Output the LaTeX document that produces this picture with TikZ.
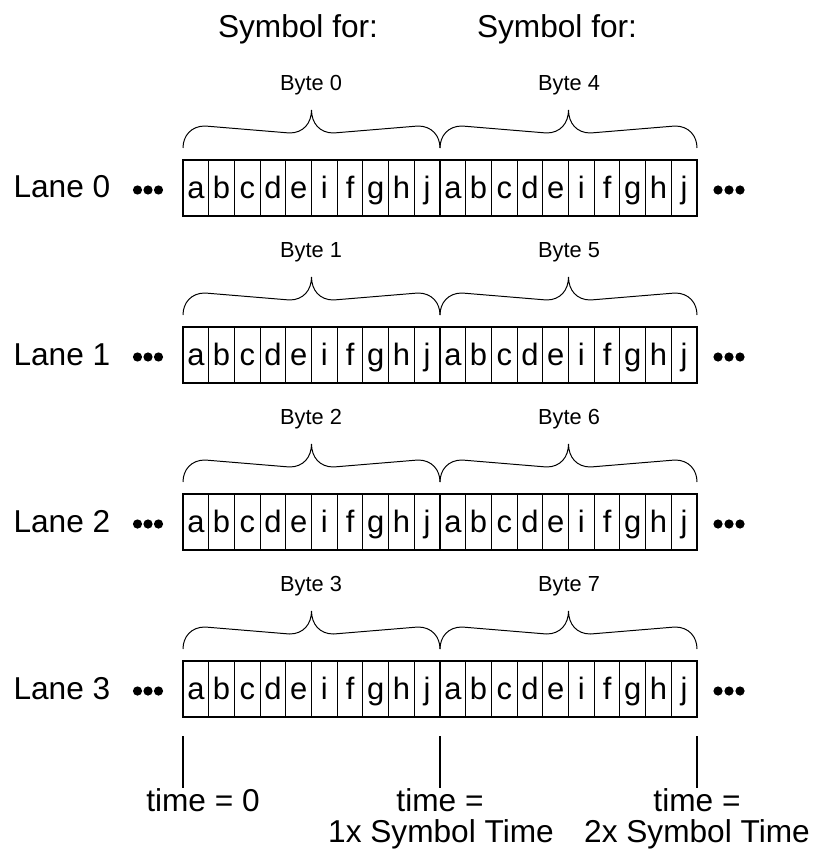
\documentclass[tikz,border=0pt]{standalone}
\usepackage{fontspec}
\setmainfont{Liberation Sans}
\newcommand{\bigtext}{\fontsize{22.5}{22.5}\selectfont}
\newcommand{\bytetext}{\fontsize{15.5}{15.5}\selectfont}
\newcommand{\celltext}{\fontsize{22}{22}\selectfont}
\begin{document}
\begin{tikzpicture}[x=0.025cm,y=-0.025cm, line width=0.75pt,
  cell/.style={draw, minimum width=0.6425cm, minimum height=1.4cm, inner sep=0pt, outer sep=0pt,
    anchor=north west, text height=0.55cm, text depth=0.05cm, font=\celltext},
  bigl/.style={font=\bigtext, inner sep=0pt},
  bytel/.style={font=\bytetext, inner sep=0pt},
  bracepath/.style={line width=0.7pt},
  dotmark/.style={fill=black}]
\useasboundingbox (0,0) rectangle (812,853);

% headings
\node[bigl, anchor=base] (sym1) at (298,38) {Symbol for:};
\node[bigl, anchor=base] (sym2) at (557,38) {Symbol for:};

\foreach \r/\bl/\br in {0/0/4,1/1/5,2/2/6,3/3/7}{
  \pgfmathsetmacro\T{160+167*\r}
  \pgfmathsetmacro\ye{\T-12}
  % lane label
  \node[bigl, anchor=base west] (lane\r) at (13,\T+38) {Lane \r};
  % dots
  \foreach \dx in {137.5,148,158.5,718,729,740}{
    \fill[dotmark] (\dx,\T+30) circle (4.6);
  }
  % cells
  \foreach \c/\l in {0/a,1/b,2/c,3/d,4/e,5/i,6/f,7/g,8/h,9/j,10/a,11/b,12/c,13/d,14/e,15/i,16/f,17/g,18/h,19/j}{
    \node[cell] (r\r-\c) at ({183+25.7*\c},\T) {\l};
  }
  % braces
  \foreach \a in {183,440}{
    \draw[bracepath] (\a,\ye) .. controls (\a,\ye-12) and ({\a+8},\ye-22) .. ({\a+22},\ye-22)
      -- ({\a+106.5},\ye-15) .. controls ({\a+120.5},\ye-15) and ({\a+128.5},\ye-25) .. ({\a+128.5},\ye-38)
      .. controls ({\a+128.5},\ye-25) and ({\a+136.5},\ye-15) .. ({\a+150.5},\ye-15)
      -- ({\a+235},\ye-22) .. controls ({\a+249},\ye-22) and ({\a+257},\ye-12) .. ({\a+257},\ye);
  }
  % byte labels
  \node[bytel] (byte\bl) at (311,\T-75) {Byte \bl};
  \node[bytel] (byte\br) at (569,\T-75) {Byte \br};
}

% time markers
\foreach \n/\x in {0/183,1/440,2/697}{
  \coordinate (ta\n) at (\x,736);
  \coordinate (tb\n) at (\x,788);
  \draw (ta\n) -- (tb\n);
}
\node[bigl, anchor=base] (time0) at (203,811) {time = 0};
\node[bigl, anchor=base] (time1) at (440,811) {time =};
\node[bigl, anchor=base] (time1b) at (441,842) {1x Symbol Time};
\node[bigl, anchor=base] (time2) at (697,811) {time =};
\node[bigl, anchor=base] (time2b) at (697,842) {2x Symbol Time};
\end{tikzpicture}
\end{document}
